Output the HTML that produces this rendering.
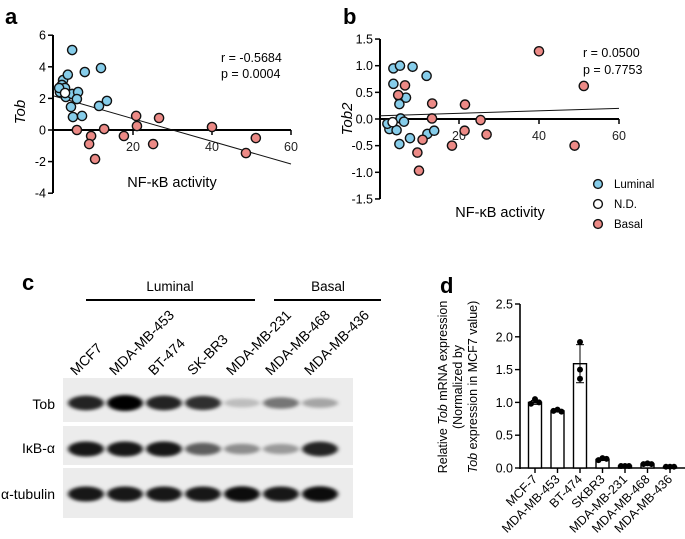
<!DOCTYPE html>
<html><head><meta charset="utf-8"><style>
html,body{margin:0;padding:0;background:#fff}
svg{display:block;font-family:"Liberation Sans",Arial,sans-serif}
</style></head><body>
<svg id="fig" width="685" height="539" viewBox="0 0 685 539" xmlns="http://www.w3.org/2000/svg">
<defs>
<filter id="blur" x="-20%" y="-100%" width="140%" height="300%"><feGaussianBlur stdDeviation="2.2 1.6"/></filter>
</defs>
<g id="pa"></g>
<g id="pb"></g>
<g id="pc"></g>
<g id="pd"></g>
</svg>
<script>
// Panel a data
const aLumX=[4.6,7.8,11.9,2.3,3.5,2.0,2.8,1.5,1.3,3.0,4.6,6.1,5.8,4.3,4.8,7.1,11.4,13.4];
const aLumY=[5.06,3.67,3.92,3.16,3.5,2.85,2.66,2.4,2.66,2.09,2.28,2.4,1.96,1.46,0.82,0.89,1.52,1.84];
const aNdX=[2.8], aNdY=[2.34];
const aBasX=[5.8,9.4,8.9,10.4,12.7,17.7,20.8,21.0,25.1,26.6,40,48.6,51.1];
const aBasY=[0,-0.38,-0.89,-1.84,0.06,-0.38,0.89,0.25,-0.89,0.76,0.19,-1.46,-0.51];
const aFit=[2.15,-0.0717];
const aYTicks=[6,4,2,0,-2,-4], aXTicks=[20,40,60];
// Panel b data
const bLumX=[3.6,5.25,8.4,11.9,3.6,5.1,6.75,5.1,5.4,6.25,2.6,4.4,2.1,5.1,7.75,12.1,13.8];
const bLumY=[0.95,1.0,0.98,0.81,0.66,0.42,0.40,0.28,0.01,-0.05,-0.19,-0.21,-0.09,-0.47,-0.36,-0.28,-0.22];
const bNdX=[3.4], bNdY=[-0.06];
const bBasX=[4.8,6.5,13.3,13.25,21.5,25.4,21.4,26.9,18.25,10.9,9.6,10.0,40,51.2,48.9];
const bBasY=[0.45,0.63,0.29,0.01,0.27,-0.02,-0.22,-0.29,-0.5,-0.39,-0.63,-0.97,1.27,0.62,-0.5];
const bFit=[0.06,0.00233];
const bYTicks=[1.5,1.0,0.5,0.0,-0.5,-1.0,-1.5], bYLabels=["1.5","1.0","0.5","0.0","-0.5","-1.0","-1.5"];
// Panel c data
const cLanes=["MCF7","MDA-MB-453","BT-474","SK-BR3","MDA-MB-231","MDA-MB-468","MDA-MB-436"];
const cTob=[0.85,1.0,0.85,0.8,0.2,0.5,0.3];
const cIkb=[0.9,0.9,0.9,0.6,0.4,0.35,0.85];
const cTub=[0.9,0.9,0.9,0.9,0.95,0.9,0.95];
// Panel d data
const dCats=["MCF-7","MDA-MB-453","BT-474","SKBR3","MDA-MB-231","MDA-MB-468","MDA-MB-436"];
const dMeans=[1.0,0.87,1.59,0.13,0.03,0.06,0.02];
const dRep1=[0.98,0.87,1.92,0.12,0.03,0.06,0.02];
const dRep2=[1.05,0.89,1.50,0.15,0.03,0.07,0.02];
const dRep3=[1.00,0.86,1.36,0.14,0.03,0.06,0.02];
const dErr=[0.03,0.015,0.29,0.015,0,0.005,0];
const dYTicks=[2.5,2.0,1.5,1.0,0.5,0.0], dYLabels=["2.5","2.0","1.5","1.0","0.5","0.0"];

const NS="http://www.w3.org/2000/svg";
function mk(p,tag,at,txt){const e=document.createElementNS(NS,tag);for(const k in at)e.setAttribute(k,at[k]);if(txt!==undefined)e.textContent=txt;p.appendChild(e);return e;}
const BLUE="#86cdea",RED="#ec8a86";

function scatter(g,o){
  const sx=v=>o.x0+v*o.kx, sy=v=>o.y0-v*o.ky;
  let e=mk(g,"line",{x1:o.ax,y1:o.top,x2:o.ax,y2:o.bot,stroke:"#000","stroke-width":2});
  
  
  e=mk(g,"line",{x1:o.ax,y1:sy(0),x2:sx(60),y2:sy(0),stroke:"#000","stroke-width":2});
  
  
  o.yt.forEach((v,i)=>{
    mk(g,"line",{x1:o.ax-5,y1:sy(v),x2:o.ax,y2:sy(v),stroke:"#000","stroke-width":1.5});
    const t=mk(g,"text",{x:o.ax-7,y:sy(v)+4.5,"text-anchor":"end","font-size":12.5},o.yl?o.yl[i]:String(v));
    
    
  });
  aXTicks.forEach(v=>{
    mk(g,"line",{x1:sx(v),y1:sy(0),x2:sx(v),y2:sy(0)+5,stroke:"#000","stroke-width":1.5});
    const t=mk(g,"text",{x:sx(v),y:sy(0)+21,"text-anchor":"middle","font-size":12.5,fill:"#222"},String(v));
    
    
  });
  e=mk(g,"line",{x1:sx(0),y1:sy(o.fit[0]),x2:sx(60),y2:sy(o.fit[0]+60*o.fit[1]),stroke:"#111","stroke-width":1});
  
  
  const pts=(X,Y,c,n)=>X.forEach((x,i)=>{const p=mk(g,"circle",{cx:sx(x),cy:sy(Y[i]),r:4.6,fill:c,stroke:"#111","stroke-width":1.4});
    
    });
  pts(o.lx,o.ly,BLUE,"luminal-point");pts(o.bx,o.by,RED,"basal-point");pts(o.nx,o.ny,"#fff","nd-point");
}
const pa=document.getElementById("pa");
scatter(pa,{x0:54,kx:3.95,y0:130,ky:15.8,ax:53,top:35,bot:193,yt:aYTicks,fit:aFit,lx:aLumX,ly:aLumY,bx:aBasX,by:aBasY,nx:aNdX,ny:aNdY});
const pb=document.getElementById("pb");
scatter(pb,{x0:379,kx:4,y0:119,ky:53.3,ax:380,top:39,bot:199,yt:bYTicks,yl:bYLabels,fit:bFit,lx:bLumX,ly:bLumY,bx:bBasX,by:bBasY,nx:bNdX,ny:bNdY});

// Panel c
const pc=document.getElementById("pc");
const rows=[{v:cTob,y0:378,y1:422,cy:403,n:"tob-blot"},{v:cIkb,y0:426,y1:465,cy:449,n:"ikb-blot"},{v:cTub,y0:468,y1:518,cy:494,n:"tubulin-blot"}];
const laneX=i=>86+i*39;
rows.forEach(r=>{
  const b=mk(pc,"rect",{x:63,y:r.y0,width:290,height:r.y1-r.y0,fill:"#ececec"});
  
  
  r.v.forEach((v,i)=>{
    const band=mk(pc,"ellipse",{cx:laneX(i),cy:r.cy,rx:18,ry:3.5+4.5*v,fill:"#000","fill-opacity":v,filter:"url(#blur)"});
    
    
  });
});
cLanes.forEach((n,i)=>{
  const t=mk(pc,"text",{x:laneX(i)-10,y:376,"font-size":14,transform:`rotate(-45 ${laneX(i)-10} 376)`},n);
  
  
});

// Panel d
const pd=document.getElementById("pd");
const dy=v=>468-v*65.6, dx=i=>535+i*22.5;
mk(pd,"line",{x1:520,y1:304,x2:520,y2:469,stroke:"#000","stroke-width":1.6});
mk(pd,"line",{x1:520,y1:468,x2:685,y2:468,stroke:"#000","stroke-width":1.6});
dYTicks.forEach((v,i)=>{
  mk(pd,"line",{x1:515,y1:dy(v),x2:520,y2:dy(v),stroke:"#000","stroke-width":1.4});
  const t=mk(pd,"text",{x:513,y:dy(v)+4.5,"text-anchor":"end","font-size":12.5},dYLabels[i]);
  
  
});
dCats.forEach((c,i)=>{
  const b=mk(pd,"rect",{x:dx(i)-6.5,y:dy(dMeans[i]),width:13,height:468-dy(dMeans[i]),fill:"#fff",stroke:"#000","stroke-width":1.4});
  
  
  if(dErr[i]>0.01){
    mk(pd,"line",{x1:dx(i),y1:dy(dMeans[i]+dErr[i]),x2:dx(i),y2:dy(dMeans[i]-dErr[i]),stroke:"#000","stroke-width":1});
    mk(pd,"line",{x1:dx(i)-4,y1:dy(dMeans[i]+dErr[i]),x2:dx(i)+4,y2:dy(dMeans[i]+dErr[i]),stroke:"#000","stroke-width":1});
    mk(pd,"line",{x1:dx(i)-4,y1:dy(dMeans[i]-dErr[i]),x2:dx(i)+4,y2:dy(dMeans[i]-dErr[i]),stroke:"#000","stroke-width":1});
  }
  [[dRep1,-4],[dRep2,0],[dRep3,4]].forEach(([a,o])=>{
    const off=i===2?0:o;
    const p=mk(pd,"circle",{cx:dx(i)+off,cy:dy(a[i]),r:3,fill:"#000"});
    
    
  });
  mk(pd,"line",{x1:dx(i),y1:468,x2:dx(i),y2:473,stroke:"#000","stroke-width":1.4});
  const t=mk(pd,"text",{x:dx(i)+3,y:480,"text-anchor":"end","font-size":12.5,transform:`rotate(-45 ${dx(i)+3} 480)`},c);
  
  
});
</script>
<svg width="685" height="539" style="position:absolute;left:0;top:0" xmlns="http://www.w3.org/2000/svg">
<g font-family="Liberation Sans, Arial, sans-serif">
<text x="5" y="24" font-size="22" font-weight="bold">a</text>
<text x="25" y="112" font-size="15" font-style="italic" text-anchor="middle" transform="rotate(-90 25 112)">Tob</text>
<text x="172" y="187" font-size="14.5" text-anchor="middle">NF-κB activity</text>
<text x="221" y="62" font-size="12.5">r  =  -0.5684</text>
<text x="221" y="78" font-size="12.5">p = 0.0004</text>
<text x="343" y="24" font-size="22" font-weight="bold">b</text>
<text x="352" y="119" font-size="15" font-style="italic" text-anchor="middle" transform="rotate(-90 352 119)">Tob2</text>
<text x="500" y="217" font-size="14.5" text-anchor="middle">NF-κB activity</text>
<text x="583" y="57" font-size="12.5">r  =  0.0500</text>
<text x="583" y="74" font-size="12.5">p =  0.7753</text>
<g>
<circle cx="598" cy="184" r="4.4" fill="#86cdea" stroke="#111" stroke-width="1.4"/><text x="614" y="188" font-size="11.5">Luminal</text>
<circle cx="598" cy="204" r="4.4" fill="#fff" stroke="#111" stroke-width="1.4"/><text x="614" y="208" font-size="11.5">N.D.</text>
<circle cx="598" cy="224" r="4.4" fill="#ec8a86" stroke="#111" stroke-width="1.4"/><text x="614" y="228" font-size="11.5">Basal</text>
</g>
<text x="22" y="290" font-size="22" font-weight="bold">c</text>
<text x="170" y="291" font-size="13.5" text-anchor="middle">Luminal</text>
<line x1="86" y1="300" x2="255" y2="300" stroke="#000" stroke-width="2"/>
<text x="328" y="291" font-size="13.5" text-anchor="middle">Basal</text>
<line x1="274" y1="300" x2="381" y2="300" stroke="#000" stroke-width="2"/>
<text x="55" y="409" font-size="14" text-anchor="end">Tob</text>
<text x="55" y="453" font-size="14" text-anchor="end">IκB-α</text>
<text x="55" y="499" font-size="14" text-anchor="end">α-tubulin</text>
<text x="440" y="293" font-size="22" font-weight="bold">d</text>
<g font-size="12.5" text-anchor="middle">
<text transform="translate(447 387) rotate(-90)">Relative <tspan font-style="italic">Tob</tspan> mRNA expression</text>
<text transform="translate(462 387) rotate(-90)">(Normalized by</text>
<text transform="translate(477 387) rotate(-90)"><tspan font-style="italic">Tob</tspan> expression in MCF7 value)</text>
</g>
</g>
</svg>
</body></html>
